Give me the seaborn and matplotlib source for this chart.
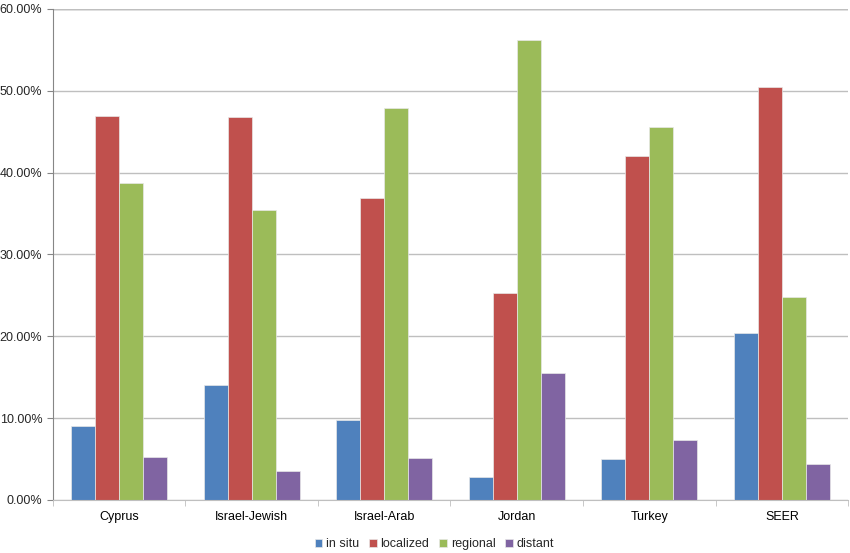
import numpy as np
import pandas as pd
import matplotlib
matplotlib.use("Agg")
import matplotlib.pyplot as plt
from matplotlib.ticker import FuncFormatter, FixedLocator
import seaborn as sns

# データ
regions = ["Cyprus", "Israel-Jewish", "Israel-Arab", "Jordan", "Turkey", "SEER"]
stages = ["in situ", "localized", "regional", "distant"]
in_situ = [9.0, 14.1, 9.8, 2.8, 5.0, 20.4]
localized = [46.9, 46.8, 36.9, 25.3, 42.0, 50.4]
regional = [38.7, 35.4, 47.9, 56.2, 45.6, 24.8]
distant = [5.3, 3.5, 5.1, 15.5, 7.3, 4.4]

colors = ["#4F81BD", "#C0504D", "#9BBB59", "#8064A2"]

df = pd.DataFrame({
    "region": regions * 4,
    "stage": np.repeat(stages, len(regions)),
    "value": in_situ + localized + regional + distant,
})

sns.set_style("white")
plt.rcParams['font.family'] = ['Liberation Sans', 'DejaVu Sans']

fig, ax = plt.subplots(figsize=(8.5, 5.53), dpi=100)
fig.subplots_adjust(left=0.062, right=0.998, top=0.984, bottom=0.096)

sns.barplot(data=df, x="region", y="value", hue="stage", order=regions,
            hue_order=stages, palette=colors, saturation=1, width=0.725, ax=ax,
            edgecolor="#E8E8E8", linewidth=0.5, errorbar=None)

ax.set_ylim(0, 60)
ax.set_xlim(-0.5, 5.5)
ax.set_yticks(np.arange(0, 61, 10))
ax.yaxis.set_major_formatter(FuncFormatter(lambda v, p: f"{v:.2f}%"))
ax.yaxis.grid(True, color="#BFBFBF", linewidth=1)
ax.set_axisbelow(True)
ax.set_xlabel("")
ax.set_ylabel("")

for s in ["top", "right"]:
    ax.spines[s].set_visible(False)
ax.spines["left"].set_color("#868686")
ax.spines["bottom"].set_color("#BFBFBF")
ax.axhline(60, color="#868686", linewidth=1, zorder=0)

ax.tick_params(axis="x", which="major", length=0, pad=8, labelsize=9, colors="black")
ax.xaxis.set_minor_locator(FixedLocator(np.arange(-0.5, 6.0, 1)))
ax.tick_params(axis="x", which="minor", length=4, color="#BFBFBF", direction="out", bottom=True)
ax.tick_params(axis="y", length=4, color="#868686", direction="out", left=True, labelsize=9)

ax.legend(loc="upper center", bbox_to_anchor=(0.48, -0.055), ncol=4, frameon=False,
          fontsize=9, handlelength=0.6, handleheight=0.6, handletextpad=0.3,
          columnspacing=0.8)

plt.savefig("out.png", dpi=100)
